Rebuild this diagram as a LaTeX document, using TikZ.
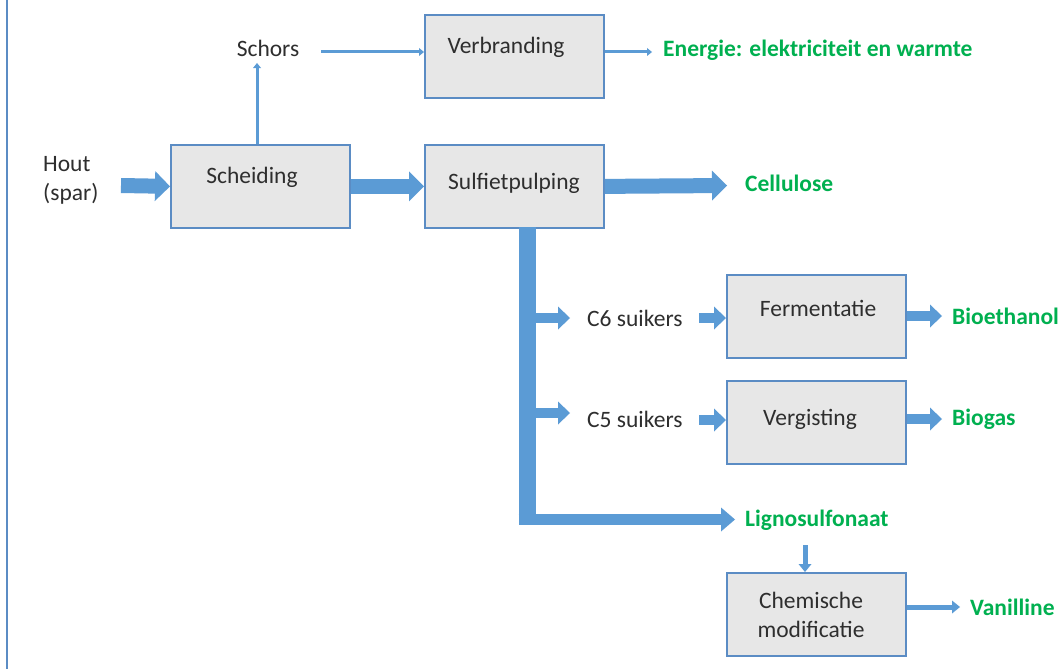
\documentclass[tikz,border=0pt]{standalone}
\usepackage{fontspec}
\setmainfont{Carlito}
\usetikzlibrary{arrows.meta}
\definecolor{arrblue}{HTML}{5B9BD5}
\definecolor{boxblue}{HTML}{5B8CC4}
\definecolor{boxfill}{HTML}{E7E7E7}
\definecolor{prodgreen}{HTML}{00B050}
\definecolor{txt}{HTML}{2E2E2E}
\tikzset{
  box/.style={draw=boxblue, line width=1.8pt, fill=boxfill, minimum width=179pt, minimum height=83pt, anchor=north west, inner sep=0pt},
  lbl/.style={font=\fontsize{23.5}{29}\selectfont, text=txt, inner sep=0pt},
  prod/.style={font=\fontsize{23.5}{29}\selectfont\bfseries, text=prodgreen, inner sep=0pt, anchor=west},
  fat/.style={draw=arrblue, line width=15pt, -{Triangle[length=15pt,width=30pt,line width=0pt]}},
  mid/.style={draw=arrblue, line width=10pt, -{Triangle[length=12pt,width=23pt,line width=0pt]}},
  small/.style={draw=arrblue, line width=5pt, -{Triangle[length=8pt,width=13pt,line width=0pt]}},
  thin/.style={draw=arrblue, line width=3pt, -{Triangle[length=5pt,width=8pt,line width=0pt]}},
}
\begin{document}
\begin{tikzpicture}[x=1pt,y=-1pt]
\useasboundingbox (0,0) rectangle (1062,669);
\fill[white] (0,0) rectangle (1062,669);
\draw[boxblue, line width=1.5pt] (7,0) -- (7,669);

% boxes
\node[box] (scheid) at (170,144) {};
\node[box] (verbr) at (424,14) {};
\node[box] (sulf) at (424,144) {};
\node[box] (ferm) at (726,274) {};
\node[box] (vergist) at (726,380) {};
\node[box] (chem) at (726,572) {};

% box texts
\node[lbl] (scheid-t) at (252,177) {Scheiding};
\node[lbl] (verbr-t) at (506,47) {Verbranding};
\node[lbl] (sulf-t) at (514,183) {Sulfietpulping};
\node[lbl] (ferm-t) at (818,308) {Fermentatie};
\node[lbl] (vergist-t) at (810,419) {Vergisting};
\node[lbl, align=center] (chem-t) at (811,615) {Chemische\\modificatie};

% other texts
\node[lbl, align=left, anchor=west] (hout) at (43,180.5) {Hout\\(spar)};
\node[lbl] (schors) at (268,48) {Schors};
\node[lbl, anchor=west] (c6) at (587,318) {C6 suikers};
\node[lbl, anchor=west] (c5) at (587,419) {C5 suikers};

% products
\node[prod] (energie) at (663,50) {Energie: elektriciteit en warmte};
\node[prod] (cell) at (745,183) {Cellulose};
\node[prod] (bioeth) at (952,316) {Bioethanol};
\node[prod] (biogas) at (952,419) {Biogas};
\node[prod] (ligno) at (745,520) {Lignosulfonaat};
\node[prod] (van) at (970,607) {Vanilline};

% connectors
\coordinate (houtstart) at (121,185.5);
\draw[fat] (houtstart) -- (scheid.west);
\draw[thin] (scheid.north -| 257,0) -- (257,63);
\coordinate (schorsend) at (321,52);
\draw[thin] (schorsend) -- (verbr.west |- 0,52);
\draw[thin] (verbr.east |- 0,52) -- (652,52);
\draw[fat] (scheid.east) -- (sulf.west);
\draw[fat] (sulf.east) -- (727,185.5);

% trunk
\coordinate (trunktop) at (527,227);
\coordinate (trunkbot) at (527,525);
\draw[arrblue, line width=17pt] (trunktop) -- (trunkbot);
\draw[arrblue, line width=11pt, -{Triangle[length=14pt,width=24pt,line width=0pt]}] (518.5,519.5) -- (735,519.5);
\draw[mid] (535,318) -- (570,318);
\draw[mid] (535,413) -- (570,413);
\draw[mid] (699,318) -- (ferm.west |- 0,318);
\draw[mid] (699,420) -- (vergist.west |- 0,420);
\draw[mid] (ferm.east |- 0,316) -- (942,316);
\draw[mid] (vergist.east |- 0,419) -- (942,419);
\draw[small] (805,545) -- (chem.north -| 805,0);
\draw[small] (chem.east |- 0,607) -- (960,607);
\end{tikzpicture}
\end{document}
